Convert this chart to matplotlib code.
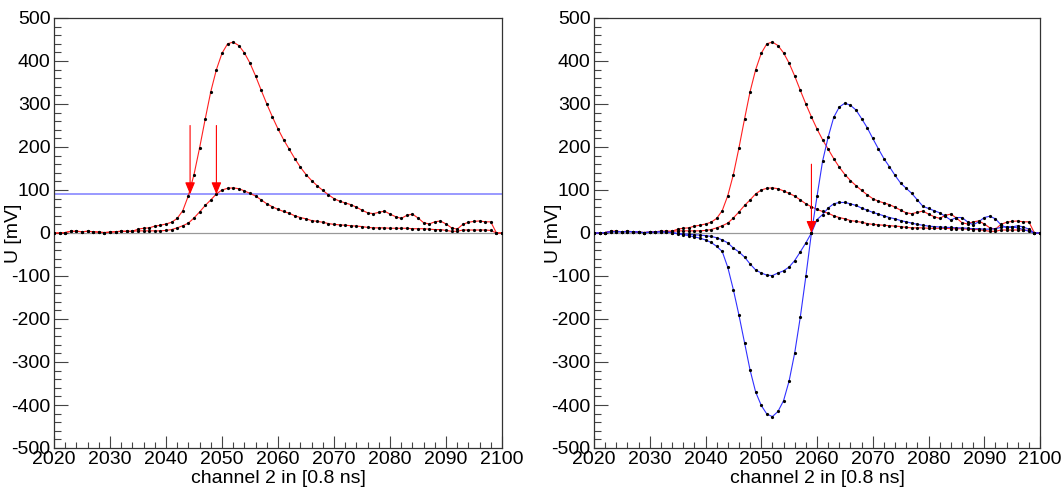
import matplotlib
matplotlib.use("Agg")
import matplotlib.pyplot as plt
from matplotlib.ticker import MultipleLocator

plt.rcParams['font.family'] = ['Liberation Sans', 'DejaVu Sans']
plt.rcParams['axes.unicode_minus'] = False

channels = list(range(2020, 2101))

# large pulse (red)
pulse_large = [0, 0, 1, 4, 4, 3, 4, 3, 2, 1,
               2, 3, 4, 4, 4, 9, 11, 12, 16, 18,
               21, 25, 34, 52, 87, 136, 198, 265, 329, 380,
               418, 440, 444, 436, 419, 395, 365, 332, 300, 270,
               242, 217, 195, 173, 153, 136, 122, 110, 99, 89,
               80, 74, 70, 66, 60, 53, 47, 45, 48, 51,
               44, 38, 34, 41, 44, 35, 24, 21, 26, 28,
               21, 12, 9, 20, 25, 27, 28, 26, 26, 0,
               0]

# small pulse (red)
pulse_small = [0, 0, 1, 4, 4, 3, 4, 3, 2, 1,
               2, 3, 4, 4, 4, 5, 5, 5, 5, 5,
               6, 8, 12, 17, 23, 35, 49, 64, 77, 91,
               100, 104, 105, 103, 98, 92, 86, 77, 68, 61,
               55, 50, 46, 40, 36, 33, 29, 27, 25, 22,
               20, 19, 18, 17, 16, 15, 13, 12, 12, 12,
               11, 11, 11, 11, 10, 10, 10, 9, 8, 8,
               6, 4, 4, 7, 7, 7, 7, 7, 6, 0,
               0]

# shaped signal of the large pulse (blue)
shaped_large = [0, 0, 1, 3, 3, 3, 3, 3, 2, 1,
                2, 2, 3, 2, 1, -2, -4, -6, -9, -12,
                -16, -22, -31, -43, -80, -132, -191, -255, -319, -370,
                -401, -421, -427, -415, -390, -344, -279, -196, -101, 0,
                85, 167, 223, 269, 293, 302, 297, 286, 266, 245,
                220, 196, 173, 154, 134, 116, 104, 92, 77, 62,
                57, 52, 47, 39, 30, 36, 36, 26, 19, 26,
                36, 39, 33, 19, 12, 14, 17, 14, 9, 0,
                0]

# shaped signal of the small pulse (blue)
shaped_small = [0, 0, 1, 3, 3, 3, 3, 3, 2, 1,
                2, 2, 3, 2, 1, -1, -2, -3, -4, -5,
                -6, -8, -11, -16, -23, -35, -44, -56, -72, -86,
                -93, -98, -99, -93, -88, -79, -64, -44, -23, 0,
                31, 43, 58, 68, 71, 71, 68, 64, 58, 53,
                48, 44, 40, 36, 33, 29, 26, 23, 20, 18,
                16, 15, 14, 13, 13, 12, 12, 11, 10, 10,
                9, 9, 10, 13, 15, 14, 12, 8, 4, 0,
                0]

threshold = 90
left_arrow_x = [2044.3, 2049.0]
left_arrow_top = 250
right_arrow_x = [2059.0]
right_arrow_top = 160
right_arrow_tip = 0

W, H = 1062, 492
fig = plt.figure(figsize=(W / 100, H / 100), dpi=100)
ax1 = fig.add_axes([54 / W, 1 - 448 / H, (502 - 54) / W, (448 - 18) / H])
ax2 = fig.add_axes([594 / W, 1 - 448 / H, (1040 - 594) / W, (448 - 18) / H])

RED = '#ff2020'
BLUE = '#3030ff'
FS = 14


def style(ax):
    ax.set_xlim(2020, 2100)
    ax.set_ylim(-500, 500)
    ax.xaxis.set_major_locator(MultipleLocator(10))
    ax.xaxis.set_minor_locator(MultipleLocator(2))
    ax.yaxis.set_major_locator(MultipleLocator(100))
    ax.yaxis.set_minor_locator(MultipleLocator(20))
    ax.tick_params(which='both', direction='in', top=False, right=False,
                   color='#444444', width=0.8, labelsize=FS)
    ax.tick_params(axis='y', which='major', length=10, pad=2.5)
    ax.tick_params(axis='y', which='minor', length=5)
    ax.tick_params(axis='x', which='major', length=8.6, pad=2.0)
    ax.tick_params(axis='x', which='minor', length=4.3)
    for s in ax.spines.values():
        s.set_linewidth(0.9)
        s.set_color('#333333')
    ax.axhline(0, color='#999999', lw=0.9, zorder=1)
    ax.set_xlabel('channel 2 in [0.8 ns]', fontsize=FS, va='top')
    ax.xaxis.set_label_coords(0.5, -0.051)
    ax.set_ylabel('U [mV]', fontsize=FS)
    ax.yaxis.set_label_coords(-0.072, 0.5)


def curve(ax, y, color):
    ax.plot(channels, y, color=color, lw=0.8, zorder=2)
    ax.plot(channels, y, 'o', color='black', ms=2.3, mew=0, zorder=3)


def arrow(ax, x, top, tip):
    ax.annotate('', xy=(x, tip), xytext=(x, top),
                arrowprops=dict(arrowstyle='-|>,head_length=0.6,head_width=0.25',
                                mutation_scale=12, color='#ff0000', lw=0.8,
                                shrinkA=0, shrinkB=0), zorder=5)


style(ax1)
ax1.axhline(threshold, color='#8888ff', lw=1.2, zorder=1)
curve(ax1, pulse_small, RED)
curve(ax1, pulse_large, RED)
for x in left_arrow_x:
    arrow(ax1, x, left_arrow_top, threshold)

style(ax2)
curve(ax2, pulse_small, RED)
curve(ax2, pulse_large, RED)
curve(ax2, shaped_small, BLUE)
curve(ax2, shaped_large, BLUE)
for x in right_arrow_x:
    arrow(ax2, x, right_arrow_top, right_arrow_tip)

fig.savefig('out.png', dpi=100)
